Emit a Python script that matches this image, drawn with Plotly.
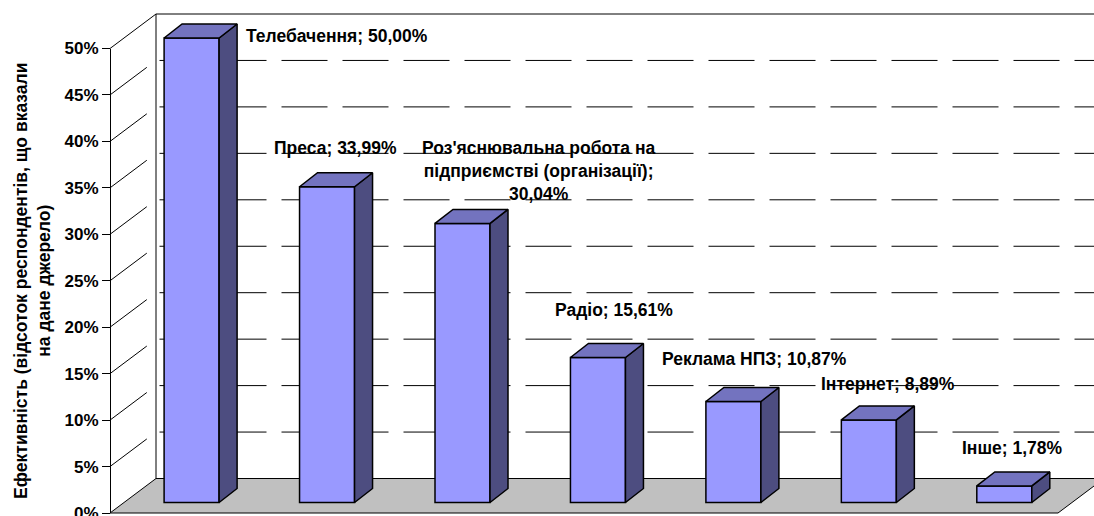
import plotly.graph_objects as go

categories = ["Телебачення", "Преса", "Роз'яснювальна робота на<br>підприємстві (організації);<br>", "Радіо", "Реклама НПЗ", "Інтернет", "Інше"]
values = [50.00, 33.99, 30.04, 15.61, 10.87, 8.89, 1.78]
value_text = ["50,00%", "33,99%", "30,04%", "15,61%", "10,87%", "8,89%", "1,78%"]
axis_ticks = list(range(0, 55, 5))

W, H = 1094, 516
X0, XS = 191.6, 135.45       # px of first category, px per category
Y0, YS = 513.0, 9.29         # px of 0 % in front plane, px per percent
BAR_W = 55 / XS
BAR_DX, BAR_DY = 18 / XS, 14 / YS     # bar depth
LIFT = 10.5 / YS                      # bar base above front floor edge
WALL_DX, WALL_DY = 46 / XS, 34.5 / YS # floor depth
FRONT_L = (110 - X0) / XS
FRONT_R = (1058 - X0) / XS
FONT = "Liberation Sans, Arial, sans-serif"
FS = 17.5

BLUE, DARK, MID, FLOOR = "#9999FF", "#4D4D80", "#7373BF", "#C0C0C0"

shapes = []
def path(pts):
    return "M " + " L ".join(f"{x:.4f},{y:.4f}" for x, y in pts)

# floor
shapes.append(dict(type="path", layer="below", xref="x", yref="y",
    path=path([(FRONT_L, 0), (FRONT_L + WALL_DX, WALL_DY), (FRONT_R + WALL_DX, WALL_DY), (FRONT_R, 0)]) + " Z",
    fillcolor=FLOOR, line=dict(color="#000", width=1)))
# gridlines: run along the side wall, then along the back wall
for t in axis_ticks[1:]:
    solid = t == axis_ticks[-1]
    shapes.append(dict(type="path", layer="below", xref="x", yref="y",
        path=path([(FRONT_L, t), (FRONT_L + WALL_DX, t + WALL_DY), (FRONT_R + WALL_DX, t + WALL_DY)]),
        line=dict(color="#000", width=1, dash="solid" if solid else "46px,15px")))
# walls' edges
shapes.append(dict(type="path", layer="below", xref="x", yref="y",
    path=path([(FRONT_L + WALL_DX, WALL_DY), (FRONT_L + WALL_DX, 50 + WALL_DY)]),
    line=dict(color="#000", width=1)))

fig = go.Figure()
xs = list(range(len(values)))
fig.add_trace(go.Bar(x=xs, y=values, base=[LIFT] * len(values), width=BAR_W,
                     marker=dict(color=BLUE, line=dict(color="#000", width=1.5)),
                     hovertext=categories, showlegend=False))

side_x, side_y, top_x, top_y = [], [], [], []
for i, v in zip(xs, values):
    l, r = i - BAR_W / 2, i + BAR_W / 2
    t = v + LIFT
    side_x += [r, r, r + BAR_DX, r + BAR_DX, r, None]
    side_y += [LIFT, t, t + BAR_DY, LIFT + BAR_DY, LIFT, None]
    top_x += [l, r, r + BAR_DX, l + BAR_DX, l, None]
    top_y += [t, t, t + BAR_DY, t + BAR_DY, t, None]
for px, py, c in ((side_x, side_y, DARK), (top_x, top_y, MID)):
    fig.add_trace(go.Scatter(x=px, y=py, mode="lines", fill="toself", fillcolor=c,
                             line=dict(color="#000", width=1.5), showlegend=False, hoverinfo="skip"))

# invisible trace to carry the front-plane value axis
fig.add_trace(go.Scatter(x=[0], y=[0], yaxis="y2", mode="markers", marker=dict(opacity=0),
                         showlegend=False, hoverinfo="skip"))

label_pos = [(336.5, 36), (335, 148), (538, 171), (613.5, 310), (755, 359), (888, 384), (1012.5, 448)]
annotations = []
for cat, vt, (px, py) in zip(categories, value_text, label_pos):
    txt = cat + vt if cat.endswith("<br>") else f"{cat}; {vt}"
    annotations.append(dict(text=txt, xref="paper", yref="paper", x=px / W, y=1 - py / H,
                            xanchor="center", yanchor="middle", showarrow=False, align="center",
                            font=dict(family=FONT, size=FS, color="#000")))
annotations = [dict(a, text="<b>" + a["text"].replace("<br>", "</b><br><b>") + "</b>") for a in annotations]

fig.update_layout(
    width=W, height=H, margin=dict(l=0, r=0, t=0, b=0, autoexpand=False),
    paper_bgcolor="#fff", plot_bgcolor="rgba(0,0,0,0)", showlegend=False,
    xaxis=dict(visible=False, range=[-X0 / XS, (W - X0) / XS], fixedrange=True),
    yaxis=dict(visible=False, range=[(Y0 - H) / YS, Y0 / YS], fixedrange=True),
    yaxis2=dict(anchor="free", position=110 / W,
                domain=[(H - Y0) / H, (H - (Y0 - 50 * YS)) / H], range=[0, 50],
                tickvals=axis_ticks, ticktext=[f"<b>{t}%</b>" for t in axis_ticks],
                ticks="outside", ticklen=8, tickwidth=1, tickcolor="#000",
                showline=True, linecolor="#000", linewidth=1, showgrid=False, zeroline=False,
                ticklabeloverflow="allow",
                tickfont=dict(family=FONT, size=17, color="#000"), fixedrange=True,
                title=dict(text="<b>Ефективність (відсоток респондентів, що вказали</b><br><b>на дане джерело)</b>",
                           font=dict(family=FONT, size=17.5, color="#000"), standoff=8)),
    shapes=shapes, annotations=annotations,
)
fig.write_html("out.html", config={"displayModeBar": False},
               post_script="document.body.style.margin='0';document.body.style.overflow='hidden';")
